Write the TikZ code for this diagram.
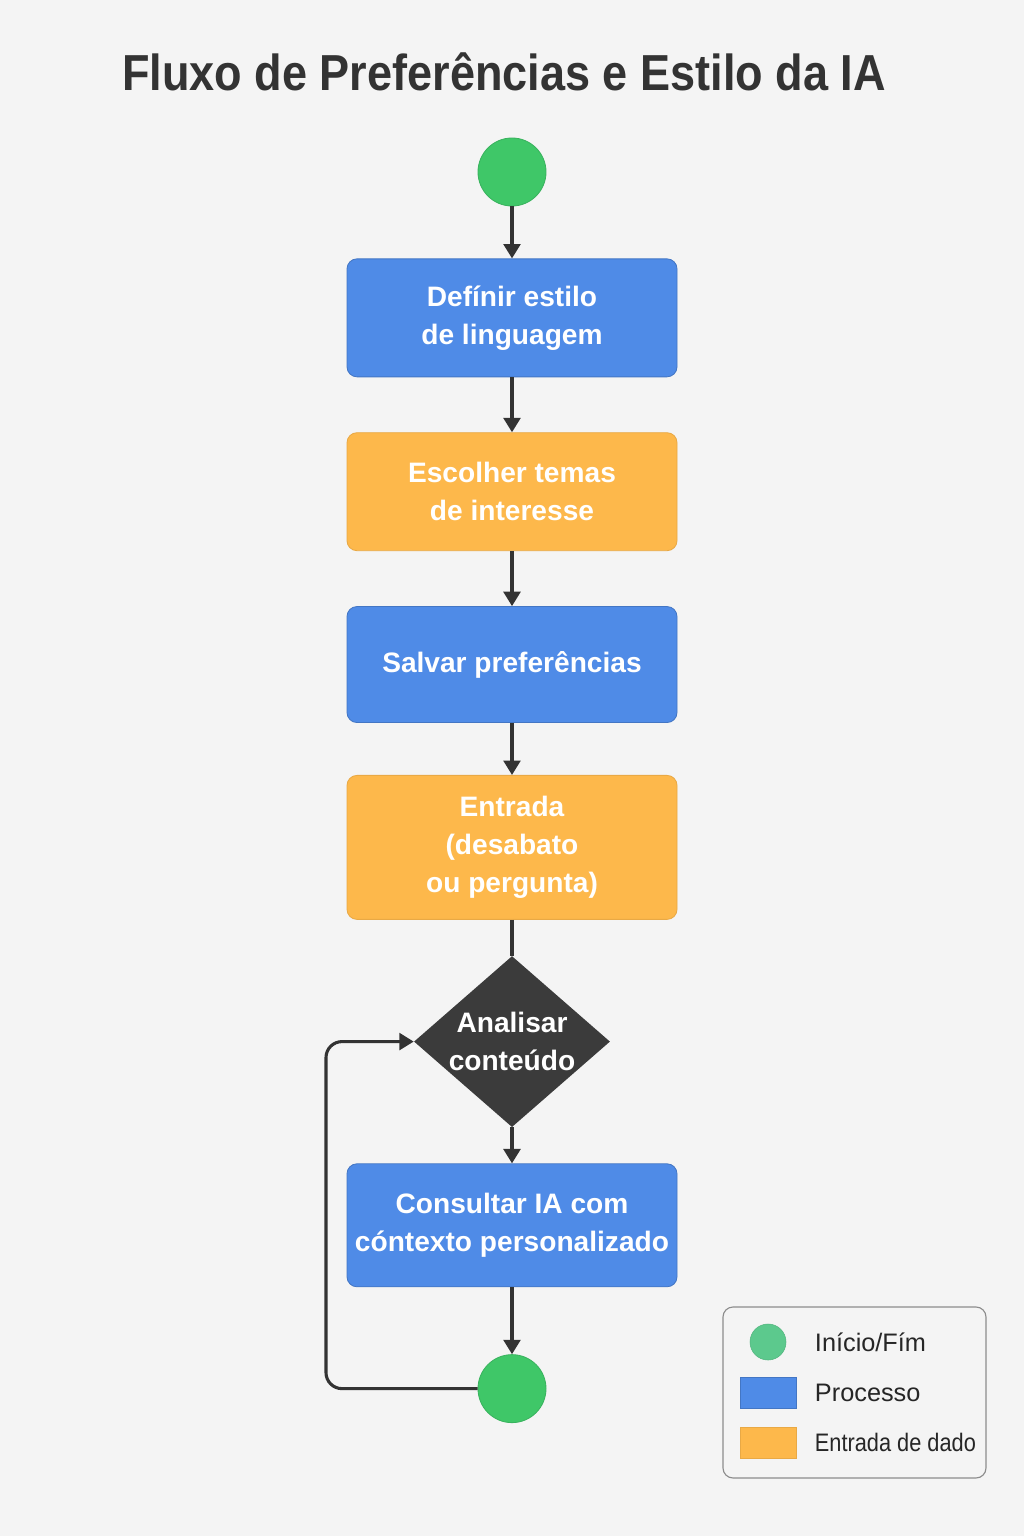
\documentclass[tikz,border=0pt]{standalone}
\usepackage{fontspec}
\setmainfont{Liberation Sans}
\usetikzlibrary{positioning, shapes.geometric, arrows.meta}

\definecolor{bgcol}{HTML}{F4F4F4}
\definecolor{startcol}{HTML}{3FC768}
\definecolor{legstartcol}{HTML}{5CC98D}
\definecolor{proccol}{HTML}{4F8BE7}
\definecolor{inputcol}{HTML}{FDB84B}
\definecolor{decicol}{HTML}{3B3B3B}
\definecolor{linecol}{HTML}{333333}

\begin{document}
\begin{tikzpicture}[
  terminal/.style={circle, fill=startcol, draw=startcol!90!black, line width=0.6pt, minimum size=1.7cm, inner sep=0pt},
  process/.style={rectangle, rounded corners=0.25cm, fill=proccol, draw=proccol!85!black, line width=0.6pt,
    minimum width=8.25cm, text=white, align=center, font=\bfseries\fontsize{20}{27}\selectfont},
  inputbox/.style={process, fill=inputcol, draw=inputcol!92!black},
  decision/.style={diamond, fill=decicol, minimum width=4.9cm, minimum height=4.275cm, inner sep=-0.6cm,
    text=white, align=center, font=\bfseries\fontsize{20}{27}\selectfont},
  flow/.style={draw=linecol, line width=2.2pt, -{Triangle[width=0.42cm, length=0.36cm]}},
  legendtext/.style={anchor=west, text=black!85, font=\fontsize{18}{20}\selectfont}
]
  \fill[bgcol] (0,0) rectangle (25.6,-38.4);
  \useasboundingbox (0,0) rectangle (25.6,-38.4);

  \node[text=black!80, font=\bfseries\fontsize{36}{40}\selectfont] (title) at (12.6,-1.8)
    {\scalebox{0.89}[1]{Fluxo de Preferências e Estilo da IA}};

  \node[terminal] (start) at (12.8,-4.3) {};
  \node[process, minimum height=2.95cm, below=1.3cm of start] (style) {Defínir estilo\\de linguagem};
  \node[inputbox, minimum height=2.95cm, below=1.375cm of style] (topics) {Escolher temas\\de interesse};
  \node[process, minimum height=2.9cm, below=1.375cm of topics] (save) {Salvar preferências};
  \node[inputbox, minimum height=3.6cm, below=1.3cm of save] (input) {Entrada\\(desabato\\ou pergunta)};
  \node[decision, below=0.9cm of input] (analyse) {Analisar\\conteúdo};
  \node[process, minimum height=3.075cm, below=0.9cm of analyse] (query) {Consultar IA com\\cóntexto personalizado};
  \node[terminal, below=1.675cm of query] (stop) {};
  \coordinate (loop) at (8.15,-30);

  \draw[flow] (start) -- (style);
  \draw[flow] (style) -- (topics);
  \draw[flow] (topics) -- (save);
  \draw[flow] (save) -- (input);
  \draw[draw=linecol, line width=2.2pt] (input) -- (analyse);
  \draw[flow] (analyse) -- (query);
  \draw[flow] (query) -- (stop);
  \draw[flow, rounded corners=0.4cm] (stop.west) -| (loop) |- (analyse.west);

  \node[draw=black!45, fill=bgcol, rounded corners=0.25cm, line width=0.8pt,
    minimum width=6.575cm, minimum height=4.275cm] (legend) at (21.3625,-34.8125) {};
  \node[circle, fill=legstartcol, draw=legstartcol!90!black, minimum size=0.9cm, inner sep=0pt] (legstart) at (19.2,-33.55) {};
  \node[rectangle, fill=proccol, draw=proccol!85!black, minimum width=1.4cm, minimum height=0.775cm, inner sep=0pt] (legproc) at (19.2,-34.8125) {};
  \node[rectangle, fill=inputcol, draw=inputcol!92!black, minimum width=1.4cm, minimum height=0.775cm, inner sep=0pt] (leginput) at (19.2,-36.0625) {};
  \node[legendtext] at (20.25,-33.55) {Início/Fím};
  \node[legendtext] at (20.25,-34.8125) {Processo};
  \node[legendtext] at (20.25,-36.0625) {\scalebox{0.86}[1]{Entrada de dado}};
\end{tikzpicture}
\end{document}
